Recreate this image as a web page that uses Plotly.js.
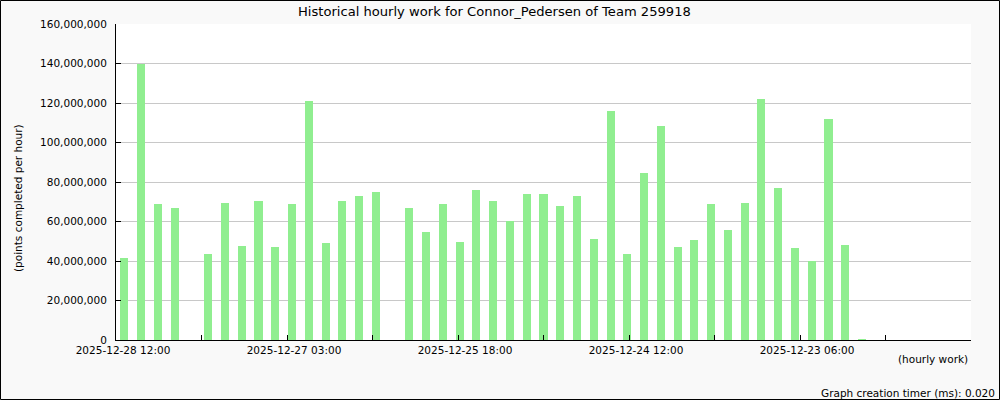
<!DOCTYPE html>
<html>
<head>
<meta charset="utf-8">
<script src="https://cdn.plot.ly/plotly-3.0.1.min.js"></script>
<style>
html,body{margin:0;padding:0;background:#f9f9f9;}
#chart{width:1000px;height:400px;}
</style>
</head>
<body>
<div id="chart"></div>
<script>
// points completed per hour, one entry per slot (null = no bar)
const workValues = [
  41.5e6, 140.0e6, 68.9e6, 66.8e6, null,
  43.5e6, 69.4e6, 47.6e6, 70.4e6, 47.1e6,
  68.9e6, 121.0e6, 49.1e6, 70.4e6, 72.9e6,
  74.9e6, null, 66.8e6, 54.7e6, 68.9e6,
  49.6e6, 75.9e6, 70.4e6, 60.1e6, 73.9e6,
  73.9e6, 67.8e6, 72.9e6, 51.1e6, 115.9e6,
  43.5e6, 84.6e6, 108.4e6, 47.1e6, 50.6e6,
  68.9e6, 55.7e6, 69.4e6, 122.0e6, 77.0e6,
  46.6e6, 40.0e6, 111.9e6, 48.1e6, 0.6e6,
  null, null, null, null, null, null
];
const tickLabels = [
  "2025-12-28 12:00", "", "2025-12-27 03:00", "", "2025-12-25 18:00", "",
  "2025-12-24 12:00", "", "2025-12-23 06:00", "", ""
];
const titleText = "Historical hourly work for Connor_Pedersen of Team 259918";
const yTitleText = "(points completed per hour)";
const xTitleText = "(hourly work)";
const timerText = "Graph creation timer (ms): 0.020";

const slotIndex = workValues.map((v, i) => i);
const nSlots = workValues.length;
const nTicks = tickLabels.length;
const tickStep = nSlots / (nTicks - 1);
const tickVals = tickLabels.map((t, k) => -0.5 + k * tickStep);

const W = 1000, H = 400, ml = 116, mr = 29, mt = 24, mb = 60;
const pw = W - ml - mr, ph = H - mt - mb;
const px = x => (x - ml) / pw;
const py = y => (H - mb - y) / ph;

const font = "DejaVu Sans, sans-serif";
const fs = 10.5;

const trace = {
  type: "bar",
  x: slotIndex,
  y: workValues,
  width: 0.48,
  marker: {color: "#90ee90", line: {width: 0}},
  hoverinfo: "none"
};

const layout = {
  width: W, height: H,
  margin: {l: ml, r: mr, t: mt, b: mb, pad: 0},
  paper_bgcolor: "#f9f9f9",
  plot_bgcolor: "#ffffff",
  showlegend: false,
  font: {family: font, size: fs, color: "#000"},
  xaxis: {
    type: "linear",
    range: [-0.5, nSlots - 0.5],
    tickmode: "array",
    tickvals: tickVals,
    ticktext: tickLabels,
    ticks: "inside",
    ticklen: 5,
    tickcolor: "#000",
    tickwidth: 1,
    ticklabelshift: 7,
    showgrid: false,
    zeroline: false,
    showline: true,
    linecolor: "#000",
    linewidth: 1,
    fixedrange: true,
    tickfont: {family: font, size: fs, color: "#000"}
  },
  yaxis: {
    range: [0, 160e6],
    tick0: 0,
    dtick: 20e6,
    tickformat: ",d",
    ticks: "inside",
    ticklen: 5,
    tickcolor: "#000",
    tickwidth: 1,
    ticklabelstandoff: 6,
    showgrid: true,
    gridcolor: "#c8c8c8",
    gridwidth: 1,
    zeroline: false,
    showline: true,
    linecolor: "#000",
    linewidth: 1,
    fixedrange: true,
    tickfont: {family: font, size: fs, color: "#000"}
  },
  bargap: 0,
  annotations: [
    {text: titleText, xref: "paper", yref: "paper", x: px(494), y: py(11),
     xanchor: "center", yanchor: "middle", showarrow: false,
     font: {family: font, size: 13.1, color: "#000"}},
    {text: yTitleText, xref: "paper", yref: "paper", x: px(18), y: py(198),
     xanchor: "center", yanchor: "middle", textangle: -90, showarrow: false,
     font: {family: font, size: fs, color: "#000"}},
    {text: xTitleText, xref: "paper", yref: "paper", x: px(970), y: py(358.5),
     xanchor: "right", yanchor: "middle", showarrow: false,
     font: {family: font, size: fs, color: "#000"}},
    {text: timerText, xref: "paper", yref: "paper", x: px(996.5), y: py(392.5),
     xanchor: "right", yanchor: "middle", showarrow: false,
     font: {family: font, size: fs, color: "#000"}}
  ],
  shapes: [
    {type: "rect", xref: "paper", yref: "paper",
     x0: px(0.5), x1: px(999.5), y0: py(399.5), y1: py(0.5),
     line: {color: "#000", width: 1}, fillcolor: "rgba(0,0,0,0)", layer: "above"}
  ]
};

Plotly.newPlot("chart", [trace], layout, {displayModeBar: false, staticPlot: true});
</script>
</body>
</html>
